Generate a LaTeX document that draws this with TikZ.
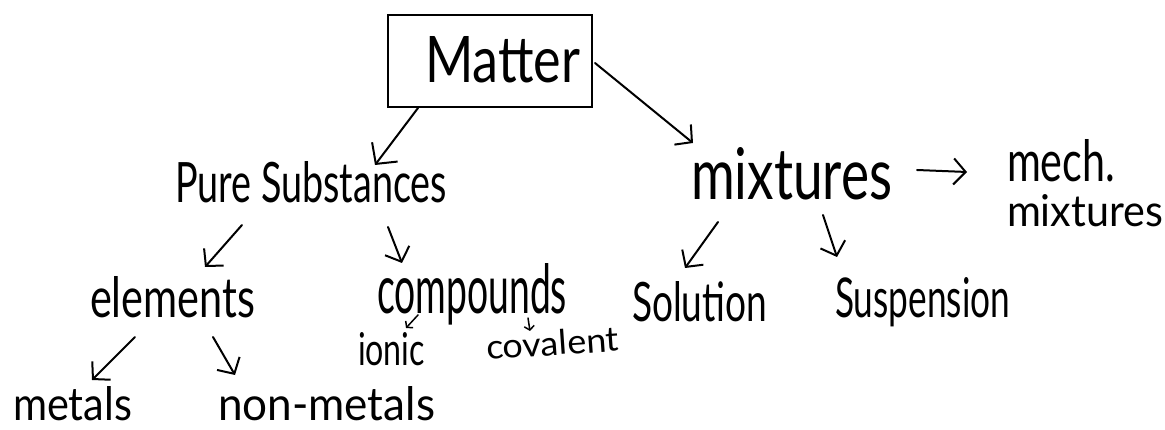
\documentclass[tikz,border=0pt]{standalone}
\usepackage{fontspec}
\setmainfont{Lato}
\usetikzlibrary{arrows.meta}
\newcommand{\hw}[3]{\resizebox{#1pt}{#2pt}{#3}}
\tikzset{
  lbl/.style={anchor=base west, inner sep=0pt, outer sep=0pt},
  arr/.style={line width=2pt, line cap=round, -{Straight Barb[length=12pt,width=26pt,line width=2pt]}},
  bigarr/.style={line width=2pt, line cap=round, -{Straight Barb[length=15pt,width=32pt,line width=2pt]}},
  tinyarr/.style={line width=1.5pt, line cap=round, -{Straight Barb[length=4pt,width=10pt,line width=1.5pt]}},
  boxst/.style={draw, line width=2.4pt, minimum width=204pt, minimum height=92pt, inner sep=0pt}
}
\begin{document}
\begin{tikzpicture}[x=1pt,y=-1pt]
\useasboundingbox (0,0) rectangle (1165,430);
\fill[white] (0,0) rectangle (1165,430);
% nodes
\node[boxst] (mbox) at (490,61) {};
\node[lbl] (matter) at (425,83) {\hw{155}{46}{Matter}};
\node[lbl] (pure) at (175,203) {\hw{272}{41}{Pure Substances}};
\node[lbl] (mix) at (691,200) {\hw{201}{52}{mixtures}};
\node[lbl] (mech) at (1007,182) {\hw{108}{42}{mech.}};
\node[lbl] (mix2) at (1007,227) {\hw{156}{32}{mixtures}};
\node[lbl] (elem) at (90,318) {\hw{165}{41}{elements}};
\node[lbl] (comp) at (377,314) {\hw{190}{50}{compounds}};
\node[lbl] (ionic) at (358,365) {\hw{67}{33}{ionic}};
\node[lbl, rotate=4] (cov) at (487,360) {\hw{133}{25}{covalent}};
\node[lbl] (sol) at (632,322) {\hw{135}{40}{Solution}};
\node[lbl] (susp) at (835,318) {\hw{175}{40}{Suspension}};
\node[lbl] (metals) at (13,420) {\hw{119}{34}{metals}};
\node[lbl] (nonmet) at (218,420) {\hw{217}{34}{non-metals}};
% connector end points
\coordinate (a1s) at (418,108); \coordinate (a1e) at (375,165);
\coordinate (a2s) at (595,63);  \coordinate (a2e) at (693,143);
\coordinate (a3s) at (917,170); \coordinate (a3e) at (967,172);
\coordinate (a4s) at (242,225); \coordinate (a4e) at (205,267);
\coordinate (a5s) at (388,227); \coordinate (a5e) at (402,263);
\coordinate (a6s) at (135,337); \coordinate (a6e) at (92,380);
\coordinate (a7s) at (213,337); \coordinate (a7e) at (235,375);
\coordinate (a8s) at (418,315); \coordinate (a8e) at (406,328);
\coordinate (a9s) at (528,318); \coordinate (a9e) at (530,331);
\coordinate (a10s) at (718,222); \coordinate (a10e) at (685,268);
\coordinate (a11s) at (823,215); \coordinate (a11e) at (837,257);
% connectors
\draw[bigarr] (a1s) -- (a1e);
\draw[arr] (a2s) -- (a2e);
\draw[arr] (a3s) -- (a3e);
\draw[arr] (a4s) -- (a4e);
\draw[arr] (a5s) -- (a5e);
\draw[arr] (a6s) -- (a6e);
\draw[arr] (a7s) -- (a7e);
\draw[tinyarr] (a8s) -- (a8e);
\draw[tinyarr] (a9s) -- (a9e);
\draw[arr] (a10s) -- (a10e);
\draw[arr] (a11s) -- (a11e);
\end{tikzpicture}
\end{document}
